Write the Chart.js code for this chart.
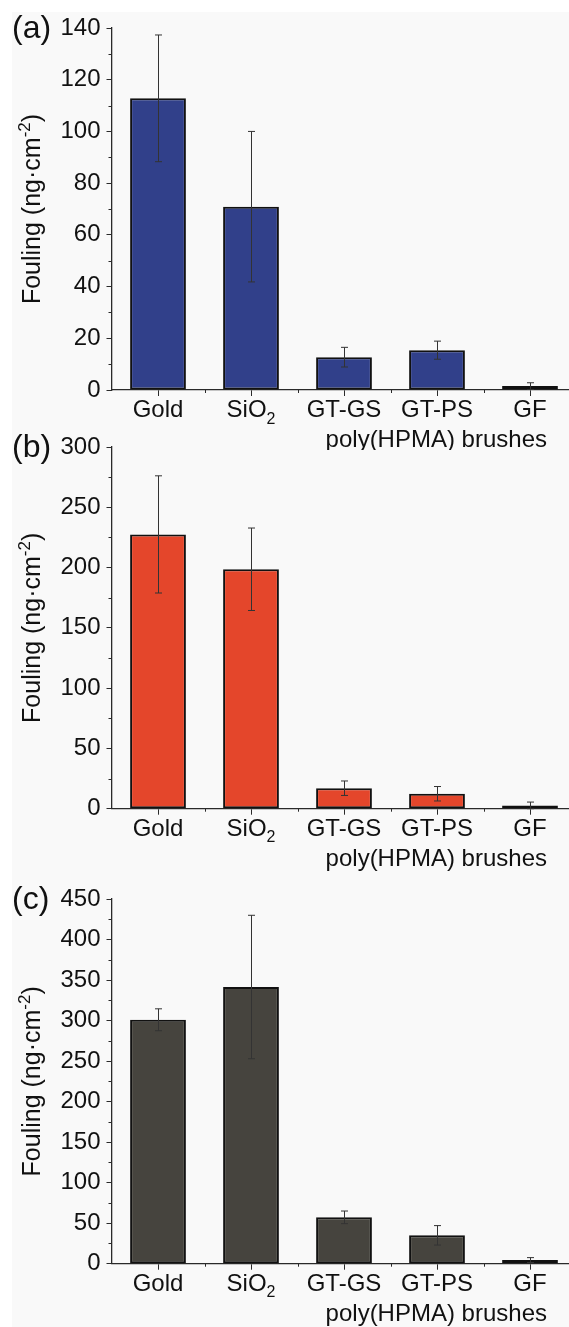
<!DOCTYPE html>
<html>
<head>
<meta charset="utf-8">
<script src="https://cdn.jsdelivr.net/npm/chart.js@4"></script>
<style>
  html, body { margin: 0; padding: 0; background: #fff; }
  #figure { position: relative; width: 569px; height: 1327px; overflow: hidden; background: #fff; }
  #paper { position: absolute; left: 12px; top: 12px; right: 0; bottom: 0; background: #f9f9f9; }
  canvas { position: absolute; left: 0; }
</style>
</head>
<body>
<div id="figure">
  <div id="paper"></div>
  <canvas id="chart-a" width="600" height="450" style="top:0px"></canvas>
  <canvas id="chart-b" width="600" height="460" style="top:420px"></canvas>
  <canvas id="chart-c" width="600" height="457" style="top:870px"></canvas>
</div>
<script>
// Surfaces (x categories)
const categories = ['Gold', 'SiO₂', 'GT-GS', 'GT-PS', 'GF'];

// (a) fouling and error, ng/cm2
const foulingA = [112.8, 70.9, 12.7, 15.4, 1.5];
const errorA = [24.5, 29.1, 3.8, 3.5, 1.3];

// (b)
const foulingB = [227.5, 198.6, 17.0, 12.4, 2.7];
const errorB = [48.6, 34.2, 6.0, 6.0, 2.8];

// (c)
const foulingC = [301.0, 341.4, 57.2, 35.0, 4.5];
const errorC = [13.5, 88.5, 7.8, 12.0, 3.0];

const yMaxA = 140, yStepA = 20;
const yMaxB = 300, yStepB = 50;
const yMaxC = 450, yStepC = 50;

const yTitle = 'Fouling (ng·cm⁻²)';
const groupLabel = 'poly(HPMA) brushes';

const FONT = '"Liberation Sans", Arial, sans-serif';
const INK = '#111';
const AXIS = '#2a2a2a';
const LABEL_SIZE = 24;

// draws text where ₂ becomes a subscript and ⁻² a superscript
function drawRich(ctx, text, x, y, size, align) {
    const parts = [];
    const re = /(⁻²|₂)/g;
    let last = 0, m;
    while ((m = re.exec(text)) !== null) {
        if (m.index > last) parts.push({ t: text.slice(last, m.index), k: 'n' });
        parts.push(m[0] === '₂' ? { t: '2', k: 'sub' } : { t: '-2', k: 'sup' });
        last = m.index + m[0].length;
    }
    if (last < text.length) parts.push({ t: text.slice(last), k: 'n' });

    const small = Math.round(size * 0.68);
    let total = 0;
    parts.forEach(p => {
        ctx.font = (p.k === 'n' ? size : small) + 'px ' + FONT;
        p.w = ctx.measureText(p.t).width;
        total += p.w;
    });
    let cx = x;
    if (align === 'center') cx = x - total / 2;
    if (align === 'right') cx = x - total;
    ctx.textAlign = 'left';
    ctx.textBaseline = 'alphabetic';
    parts.forEach(p => {
        ctx.font = (p.k === 'n' ? size : small) + 'px ' + FONT;
        let dy = 0;
        if (p.k === 'sub') dy = size * 0.28;
        if (p.k === 'sup') dy = -size * 0.4;
        ctx.fillText(p.t, cx, y + dy);
        cx += p.w;
    });
}

const figureExtras = {
    id: 'figureExtras',
    afterDatasetsDraw(chart, args, opts) {
        const ctx = chart.ctx;
        const yScale = chart.scales.y;
        const meta = chart.getDatasetMeta(0);
        const values = chart.data.datasets[0].data;
        ctx.save();
        ctx.strokeStyle = '#333';
        ctx.lineWidth = 1;
        opts.errors.forEach((e, i) => {
            const px = Math.round(meta.data[i].x) + 0.5;
            const top = yScale.getPixelForValue(values[i] + e);
            const bot = yScale.getPixelForValue(Math.max(values[i] - e, 0));
            ctx.beginPath();
            ctx.moveTo(px, top); ctx.lineTo(px, bot);
            ctx.moveTo(px - 3.5, top); ctx.lineTo(px + 3.5, top);
            ctx.moveTo(px - 3.5, bot); ctx.lineTo(px + 3.5, bot);
            ctx.stroke();
        });
        ctx.restore();
    },
    afterDraw(chart, args, opts) {
        const ctx = chart.ctx;
        const xScale = chart.scales.x;
        const yScale = chart.scales.y;
        const area = chart.chartArea;
        ctx.save();
        ctx.strokeStyle = AXIS;
        ctx.lineWidth = 1;

        // minor y ticks between the labelled ones
        ctx.beginPath();
        for (let v = opts.step / 2; v < opts.max; v += opts.step) {
            const py = Math.round(yScale.getPixelForValue(v)) + 0.5;
            ctx.moveTo(area.left - 3, py);
            ctx.lineTo(area.left, py);
        }
        // minor x ticks on the category boundaries
        const band = (area.right - area.left) / categories.length;
        for (let k = 1; k < categories.length; k++) {
            const px = Math.round(area.left + k * band) + 0.5;
            ctx.moveTo(px, area.bottom);
            ctx.lineTo(px, area.bottom + 3);
        }
        ctx.stroke();

        ctx.fillStyle = INK;
        // category labels
        categories.forEach((c, i) => {
            drawRich(ctx, c, xScale.getPixelForValue(i), area.bottom + 27, LABEL_SIZE, 'center');
        });
        // group label under the brushes
        drawRich(ctx, groupLabel, xScale.getPixelForValue(4) + 17, area.bottom + 57, LABEL_SIZE, 'right');

        // panel letter
        ctx.font = '32px ' + FONT;
        ctx.textAlign = 'left';
        ctx.textBaseline = 'alphabetic';
        ctx.fillText(opts.letter, 12, area.top + 9.5);

        // y title, rotated
        ctx.save();
        ctx.translate(40, (area.top + area.bottom) / 2);
        ctx.rotate(-Math.PI / 2);
        drawRich(ctx, yTitle, 0, 0, 25, 'center');
        ctx.restore();

        ctx.restore();
    }
};

function makePanel(canvasId, letter, values, errors, color, yMax, yStep, chartTop, xHeight) {
    const canvas = document.getElementById(canvasId);
    return new Chart(canvas.getContext('2d'), {
        type: 'bar',
        data: {
            labels: categories,
            datasets: [{
                data: values,
                backgroundColor: color,
                borderColor: '#111',
                borderWidth: 2,
                borderSkipped: false,
                barPercentage: 0.6,
                categoryPercentage: 1.0
            }]
        },
        plugins: [figureExtras],
        options: {
            responsive: false,
            animation: false,
            layout: { padding: { top: chartTop, right: 23.5, left: 0, bottom: 0 } },
            plugins: {
                legend: { display: false },
                tooltip: { enabled: false },
                figureExtras: { letter: letter, errors: errors, max: yMax, step: yStep }
            },
            scales: {
                x: {
                    type: 'category',
                    afterFit: s => { s.height = xHeight; },
                    grid: { drawOnChartArea: false, offset: false, tickLength: 6, color: AXIS },
                    border: { display: true, color: AXIS, width: 1.3 },
                    ticks: { display: false }
                },
                y: {
                    min: 0,
                    max: yMax,
                    afterFit: s => { s.width = 111.5; },
                    grid: { drawOnChartArea: false, tickLength: 5, color: AXIS },
                    border: { display: true, color: AXIS, width: 1.3 },
                    ticks: {
                        stepSize: yStep,
                        padding: 6,
                        color: INK,
                        font: { family: FONT, size: LABEL_SIZE }
                    }
                }
            }
        }
    });
}

makePanel('chart-a', '(a)', foulingA, errorA, '#31408a', yMaxA, yStepA, 28, 60);
makePanel('chart-b', '(b)', foulingB, errorB, '#e4462b', yMaxB, yStepB, 27, 71.3);
makePanel('chart-c', '(c)', foulingC, errorC, '#46443e', yMaxC, yStepC, 29, 63.3);
</script>
</body>
</html>
